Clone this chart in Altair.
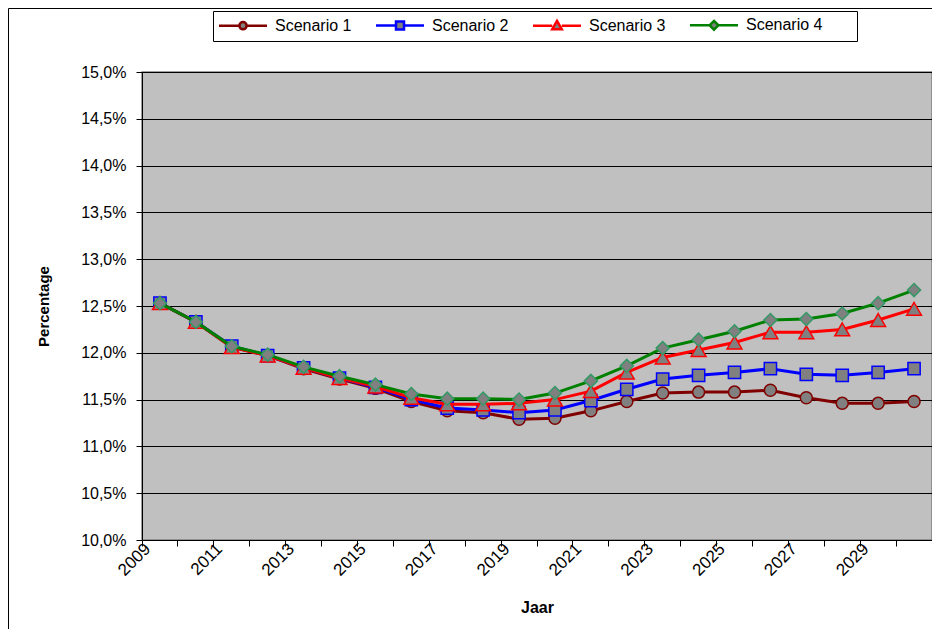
import altair as alt
import pandas as pd

years = list(range(2009, 2031))
series_names = ["Scenario 1", "Scenario 2", "Scenario 3", "Scenario 4"]
s1 = [12.53, 12.33, 12.06, 11.97, 11.83, 11.72, 11.62, 11.48, 11.38, 11.36, 11.29,
      11.30, 11.38, 11.48, 11.57, 11.58, 11.58, 11.60, 11.52, 11.46, 11.46, 11.48]
s2 = [12.53, 12.33, 12.07, 11.97, 11.84, 11.73, 11.63, 11.50, 11.41, 11.39, 11.36,
      11.39, 11.49, 11.61, 11.72, 11.76, 11.79, 11.83, 11.77, 11.76, 11.79, 11.83]
s3 = [12.53, 12.33, 12.06, 11.97, 11.84, 11.73, 11.64, 11.52, 11.45, 11.45, 11.46,
      11.50, 11.59, 11.79, 11.95, 12.03, 12.11, 12.22, 12.22, 12.25, 12.35, 12.47]
s4 = [12.53, 12.33, 12.07, 11.98, 11.85, 11.75, 11.66, 11.56, 11.51, 11.51, 11.50,
      11.57, 11.70, 11.86, 12.05, 12.14, 12.23, 12.35, 12.36, 12.42, 12.53, 12.67]
y_ticks = [10.0, 10.5, 11.0, 11.5, 12.0, 12.5, 13.0, 13.5, 14.0, 14.5, 15.0]

line_colors = ["#800000", "#0000FF", "#FF0000", "#008000"]
marker_strokes = ["#800000", "#0000FF", "#FF0000", "#339966"]
marker_shapes = ["circle", "square", "triangle-up", "diamond"]
marker_sizes = [144, 150, 220, 170]

legend_paths = [
    "M-2,0H3.1M4.9,0H10M3.1,0A0.9,0.9 0 1,0 4.9,0A0.9,0.9 0 1,0 3.1,0Z",
    "M-2,0H3M5,0H10M3,-1H5V1H3Z",
    "M-2,0H2.8M5.2,0H10M4,-1.2L5.2,0.9H2.8Z",
    "M-2,0H2.9M5.1,0H10M4,-1.1L5.1,0L4,1.1L2.9,0Z",
]

rows = []
for name, vals in zip(series_names, [s1, s2, s3, s4]):
    for yr, v in zip(years, vals):
        rows.append({"year": yr, "value": v, "series": name})
df = pd.DataFrame(rows)

x_enc = alt.X(
    "year:O",
    scale=alt.Scale(type="band", paddingInner=0, paddingOuter=0),
    axis=alt.Axis(
        bandPosition=0,
        labelExpr="datum.value % 2 == 1 ? datum.label : ''",
        labelAngle=315, labelAlign="right", labelBaseline="middle",
        labelPadding=0, labelOffset=-12, labelOverlap=False, labelFontSize=17,
        labelColor="black",
        tickSize=6, tickColor="black", domainColor="black", grid=False,
        title="Jaar", titleFontSize=16, titleFontWeight="bold", titleY=67,
        titleBaseline="middle", titleColor="black",
    ),
)
y_enc = alt.Y(
    "value:Q",
    scale=alt.Scale(domain=[10, 15], nice=False, zero=False),
    axis=alt.Axis(
        values=y_ticks,
        labelExpr="replace(format(datum.value, '.1f'), '.', ',') + '%'",
        labelFontSize=16, labelColor="black", labelPadding=10,
        tickSize=6, tickColor="black", domainColor="black",
        grid=True, gridColor="black", gridWidth=1,
        title="Percentage", titleFontSize=15, titleFontWeight="bold",
        titleX=-99, titleY=234, titleAngle=270, titleAlign="center",
        titleBaseline="middle", titleColor="black",
    ),
)

base = alt.Chart(df)
one = pd.DataFrame({"a": [0]})
frame = alt.Chart(one).mark_rect(
    fillOpacity=0, stroke="black", strokeWidth=1
).encode(
    x=alt.value(-133.5), x2=alt.value(1200), y=alt.value(-63.5), y2=alt.value(900)
)
legend_box = alt.Chart(one).mark_rect(
    fill="white", stroke="black", strokeWidth=1
).encode(
    x=alt.value(71.5), x2=alt.value(715.5), y=alt.value(-60.5), y2=alt.value(-30.5)
)

layers = [frame, legend_box]
for i, name in enumerate(series_names):
    sub = base.transform_filter(alt.datum.series == name)
    layers.append(sub.mark_line(color=line_colors[i], strokeWidth=3).encode(x=x_enc, y=y_enc))
    layers.append(
        sub.mark_point(
            shape=marker_shapes[i], filled=True, fill="#808080",
            stroke=marker_strokes[i], strokeWidth=1.5, size=marker_sizes[i], opacity=1,
        ).encode(x=x_enc, y=y_enc)
    )

legend_layer = base.transform_filter("false").mark_point(
    filled=True, fill="#808080", size=64, opacity=1, strokeWidth=2.5
).encode(
    x=x_enc, y=y_enc,
    shape=alt.Shape("series:N", scale=alt.Scale(domain=series_names, range=legend_paths),
                    legend=alt.Legend(title=None)),
    stroke=alt.Stroke("series:N", scale=alt.Scale(domain=series_names, range=line_colors),
                      legend=alt.Legend(title=None)),
)
layers.append(legend_layer)

chart = alt.layer(*layers).properties(
    width=790, height=468,
    autosize=alt.AutoSizeParams(type="none"),
    padding={"left": 134, "top": 64, "right": 0, "bottom": 89},
    background="white",
).configure(
    font="Liberation Sans"
).configure_view(
    fill="#C0C0C0", stroke="#808080", strokeWidth=1.5
).configure_legend(
    orient="none", legendX=71, legendY=-61, direction="horizontal",
    padding=6,
    labelFontSize=16, labelColor="black", labelFont="Liberation Sans",
    symbolSize=64, symbolStrokeWidth=2.5, symbolFillColor="#808080",
    labelOffset=40, columnPadding=19, symbolOpacity=1,
)

chart.save("out.html", embed_options={"renderer": "svg", "actions": False})
